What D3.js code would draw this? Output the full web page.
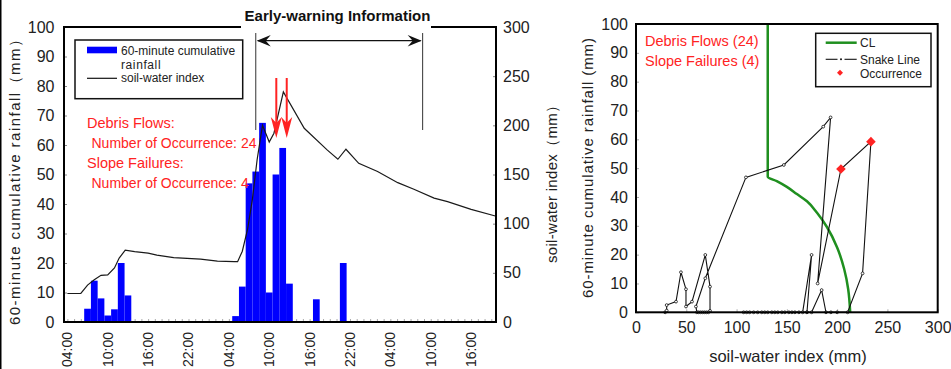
<!DOCTYPE html>
<html><head><meta charset="utf-8">
<script src="https://cdn.jsdelivr.net/npm/d3@7"></script>
<style>
html,body{margin:0;padding:0;background:#fff;}
svg{display:block;font-family:"Liberation Sans",Arial,sans-serif;}
</style></head>
<body>
<svg id="c" width="951" height="369"></svg>
<script>
// ---------- data: left chart (time series) ----------
const rainHours  = [7, 8, 9, 10, 11, 12, 13, 29, 30, 31, 32, 33, 34, 35, 36, 37, 41, 45];
const rainValues = [4.5, 14, 8, 2.2, 4.3, 20, 9, 2, 12, 47, 51, 67.5, 10, 50, 59, 13, 7.7, 20];
const swiHours  = [4, 6, 7, 8, 9, 10, 11, 11.7, 12.6, 14, 16, 17.3, 19.8, 23.8, 26.3, 28.8, 29.3, 30, 30.8, 31.5, 32.2, 33, 34, 34.7, 36.1, 39.2, 42.6, 44.2, 45.4, 47.3, 50.1, 53.1, 55.5, 58.5, 60.5, 64, 67.6];
const swiValues = [29, 29, 37.5, 43, 47.5, 48, 55, 65, 73, 71.5, 70, 68, 65.5, 64, 62, 61.3, 61.3, 72, 95, 125, 165, 200, 183, 192, 234, 197, 175, 165.5, 175.7, 161.4, 153, 141.7, 135, 126, 122.4, 114.6, 107.8];
const timeTickHours  = [4, 10, 16, 22, 28, 34, 40, 46, 52, 58, 64];
const timeTickLabels = ["04:00","10:00","16:00","22:00","04:00","10:00","16:00","22:00","04:00","10:00","16:00"];
const rainTicks = [0,10,20,30,40,50,60,70,80,90,100];
const swiTicks  = [0,50,100,150,200,250,300];
const warningHours = [32, 56.8];
const occurrenceArrowHours = [35.05, 36.6];

// ---------- data: right chart (snake line) ----------
const snakeSWI  = [29, 30.5, 30.5, 39.8, 44.7, 49.7, 49.7, 55.7, 68.9, 73.6, 73.6, 72, 70, 68, 66, 64, 62, 60.5, 59.6, 68.9, 109.3, 147, 186.2, 193.5, 180.6, 203.8, 233.6, 225.3, 210.4, 200, 193.8, 188.9, 184.6, 174.6, 170, 165.7, 174.6, 170, 162, 158, 155, 152, 148, 145, 141, 138, 135, 131, 128, 125, 121, 117, 113, 110, 107];
const snakeRain = [0, 0.6, 2.5, 3.7, 13.9, 8, 2, 3.7, 19.9, 8.9, 0.5, 0, 0, 0, 0, 0, 0, 0, 2, 11.8, 46.8, 51.1, 64.4, 67.6, 10, 49.7, 59.2, 13.5, 0, 0, 0, 0, 7.7, 0, 0, 0, 19.9, 0, 0, 0, 0, 0, 0, 0, 0, 0, 0, 0, 0, 0, 0, 0, 0, 0, 0];
const clSWI  = [131, 131, 140, 150, 160, 170, 180, 190, 200, 207, 211, 213];
const clRain = [100, 47, 45.5, 43.5, 41, 38.5, 34.5, 29.5, 22.5, 15, 8, 0];
const occSWI  = [203.8, 233.6];
const occRain = [49.7, 59.2];
const xTicksR = [0,50,100,150,200,250,300];
const yTicksR = [0,10,20,30,40,50,60,70,80,90,100];

const svg = d3.select("#c");
const RED = "#ff2323", BLUE = "#0000ff", GREEN = "#1f8f1f";

// border at left edge
svg.append("line").attr("x1",0.75).attr("x2",0.75).attr("y1",0).attr("y2",369).attr("stroke","#000").attr("stroke-width",1.5);

// ================= LEFT CHART =================
const L = {l:64, r:496, t:27, b:322};
const xT = d3.scaleLinear().domain([3.5, 67.7]).range([L.l, L.r]);
const yR = d3.scaleLinear().domain([0,100]).range([L.b, L.t]);
const yS = d3.scaleLinear().domain([0,300]).range([L.b, L.t]);
const gL = svg.append("g");

// minor hourly ticks on bottom (inward)
const hourTicks = d3.range(4, 68, 1);
gL.append("g").attr("transform",`translate(0,${L.b})`)
  .call(d3.axisBottom(xT).tickValues(hourTicks).tickSize(-3).tickFormat(""))
  .call(g=>g.select(".domain").remove())
  .call(g=>g.selectAll("line").attr("stroke","#aaa"));

// bars
gL.selectAll("rect.bar").data(rainHours).enter().append("rect")
  .attr("x", h=>xT(h-0.5)).attr("width", h=>xT(h+0.5)-xT(h-0.5))
  .attr("y", (h,i)=>yR(rainValues[i])).attr("height",(h,i)=>L.b-yR(rainValues[i]))
  .attr("fill", BLUE);

// SWI line
gL.append("path").datum(swiHours.map((h,i)=>[h, swiValues[i]]))
  .attr("d", d3.line().x(d=>xT(d[0])).y(d=>yS(d[1])))
  .attr("fill","none").attr("stroke","#1a1a1a").attr("stroke-width",1.2);

// left axis
gL.append("g").attr("transform",`translate(${L.l},0)`)
  .call(d3.axisLeft(yR).tickValues(rainTicks).tickSize(-3).tickPadding(10))
  .call(g=>g.select(".domain").remove())
  .call(g=>g.selectAll("line").attr("stroke","#888"))
  .call(g=>g.selectAll("text").attr("font-size",16).attr("fill","#222").attr("x",-9.5).attr("font-family","Liberation Sans, Arial"));
// right axis
gL.append("g").attr("transform",`translate(${L.r},0)`)
  .call(d3.axisRight(yS).tickValues(swiTicks).tickSize(-3).tickPadding(7))
  .call(g=>g.select(".domain").remove())
  .call(g=>g.selectAll("line").attr("stroke","#888"))
  .call(g=>g.selectAll("text").attr("font-size",16).attr("fill","#222").attr("x",7).attr("font-family","Liberation Sans, Arial"));

// frame
gL.append("rect").attr("x",L.l).attr("y",L.t).attr("width",L.r-L.l).attr("height",L.b-L.t)
  .attr("fill","none").attr("stroke","#000").attr("stroke-width",2);

// time tick labels
gL.selectAll("text.tl").data(timeTickHours).enter().append("text")
  .attr("transform", h=>`translate(${xT(h)},${L.b+10}) rotate(-90)`)
  .attr("text-anchor","end").attr("dy","0.35em").attr("font-size",14).attr("fill","#222")
  .text((h,i)=>timeTickLabels[i]);

// axis titles
svg.append("text").attr("transform","translate(20,178.5) rotate(-90)")
  .attr("text-anchor","middle").attr("font-size",15).attr("fill","#222")
  .attr("textLength",293).attr("lengthAdjust","spacing")
  .text("60-minute cumulative rainfall（mm）");
svg.append("text").attr("transform","translate(557,180.5) rotate(-90)")
  .attr("text-anchor","middle").attr("font-size",15).attr("fill","#222")
  .attr("textLength",165).attr("lengthAdjust","spacing")
  .text("soil-water index（mm）");

// early-warning annotation
svg.append("rect").attr("x",241).attr("y",8).attr("width",190).attr("height",24).attr("fill","#fff");
svg.append("text").attr("x",337.5).attr("y",21).attr("text-anchor","middle")
  .attr("font-size",15).attr("font-weight","bold").attr("fill","#111").text("Early-warning Information");
const wx0 = xT(warningHours[0]), wx1 = xT(warningHours[1]);
warningHours.forEach(h=>{
  svg.append("line").attr("x1",xT(h)).attr("x2",xT(h)).attr("y1",33).attr("y2",130)
    .attr("stroke","#333").attr("stroke-width",1);
});
svg.append("line").attr("x1",wx0+2).attr("x2",wx1-2).attr("y1",40.7).attr("y2",40.7).attr("stroke","#111").attr("stroke-width",1.3);
svg.append("path").attr("d",`M${wx0+1},40.7 L${wx0+15},35 L${wx0+10},40.7 L${wx0+15},46.4 Z`).attr("fill","#111");
svg.append("path").attr("d",`M${wx1-1},40.7 L${wx1-15},35 L${wx1-10},40.7 L${wx1-15},46.4 Z`).attr("fill","#111");

// red occurrence arrows
occurrenceArrowHours.forEach(h=>{
  const x = xT(h);
  svg.append("line").attr("x1",x).attr("x2",x).attr("y1",78).attr("y2",128).attr("stroke",RED).attr("stroke-width",2);
  svg.append("path").attr("d",`M${x},138 L${x-5.5},117 L${x},123 L${x+5.5},117 Z`).attr("fill",RED);
});

// legend (left)
svg.append("rect").attr("x",75).attr("y",40).attr("width",167.7).attr("height",58.7)
  .attr("fill","#fff").attr("stroke","#111").attr("stroke-width",1.5);
svg.append("rect").attr("x",87).attr("y",46.7).attr("width",30).attr("height",6.6).attr("fill",BLUE);
svg.append("text").attr("x",121).attr("y",54.5).attr("font-size",12).attr("fill","#222").text("60-minute cumulative");
svg.append("text").attr("x",121).attr("y",68.5).attr("font-size",12).attr("fill","#222").attr("letter-spacing",0.6).text("rainfall");
svg.append("line").attr("x1",87).attr("x2",117).attr("y1",78.3).attr("y2",78.3).attr("stroke","#111").attr("stroke-width",1.2);
svg.append("text").attr("x",121).attr("y",82).attr("font-size",12).attr("fill","#222").text("soil-water index");

// red notes (left)
const notesL = [
  {t:"Debris Flows:", x:87, y:128, s:14.5},
  {t:"Number of Occurrence: 24", x:91.5, y:148.3, s:14},
  {t:"Slope Failures:", x:87, y:168, s:14.5},
  {t:"Number of Occurrence: 4", x:91.5, y:188, s:14}
];
notesL.forEach(n=>svg.append("text").attr("x",n.x).attr("y",n.y).attr("font-size",n.s).attr("fill",RED).text(n.t));

// ================= RIGHT CHART =================
const R = {l:636, r:937.7, t:24, b:312.3};
const xS = d3.scaleLinear().domain([0,300]).range([R.l, R.r]);
const yQ = d3.scaleLinear().domain([0,100]).range([R.b, R.t]);
const gR = svg.append("g");

gR.append("g").attr("transform",`translate(0,${R.b})`)
  .call(d3.axisBottom(xS).tickValues(xTicksR).tickSize(-3).tickPadding(7))
  .call(g=>g.select(".domain").remove())
  .call(g=>g.selectAll("line").attr("stroke","#aaa"))
  .call(g=>g.selectAll("text").attr("font-size",16).attr("fill","#222").attr("y",9).attr("dy","0.71em").attr("font-family","Liberation Sans, Arial"));
gR.append("g").attr("transform",`translate(${R.l},0)`)
  .call(d3.axisLeft(yQ).tickValues(yTicksR).tickSize(-3).tickPadding(8))
  .call(g=>g.select(".domain").remove())
  .call(g=>g.selectAll("line").attr("stroke","#aaa"))
  .call(g=>g.selectAll("text").attr("font-size",16).attr("fill","#222").attr("x",-8).attr("font-family","Liberation Sans, Arial"));

// CL line
gR.append("path").datum(clSWI.map((s,i)=>[s, clRain[i]]))
  .attr("d", d3.line().x(d=>xS(d[0])).y(d=>yQ(d[1])).curve(d3.curveMonotoneY))
  .attr("fill","none").attr("stroke",GREEN).attr("stroke-width",2.5);

// snake line
const snake = snakeSWI.map((s,i)=>[s, snakeRain[i]]);
gR.append("path").datum(snake)
  .attr("d", d3.line().x(d=>xS(d[0])).y(d=>yQ(d[1])))
  .attr("fill","none").attr("stroke","#111").attr("stroke-width",1.1);
gR.selectAll("circle.sp").data(snake).enter().append("circle")
  .attr("cx",d=>xS(d[0])).attr("cy",d=>yQ(d[1])).attr("r",1.4)
  .attr("fill","#fff").attr("stroke","#111").attr("stroke-width",0.8);

// occurrences
gR.selectAll("path.occ").data(occSWI).enter().append("path")
  .attr("d",(s,i)=>{const x=xS(s), y=yQ(occRain[i]); return `M${x},${y-4.8} L${x+4.8},${y} L${x},${y+4.8} L${x-4.8},${y} Z`;})
  .attr("fill",RED);

// frame
gR.append("rect").attr("x",R.l).attr("y",R.t).attr("width",R.r-R.l).attr("height",R.b-R.t)
  .attr("fill","none").attr("stroke","#000").attr("stroke-width",2);

// titles
svg.append("text").attr("transform","translate(593,168) rotate(-90)")
  .attr("text-anchor","middle").attr("font-size",15).attr("fill","#222")
  .attr("textLength",260).attr("lengthAdjust","spacing")
  .text("60-minute cumulative rainfall (mm)");
svg.append("text").attr("x",788).attr("y",362).attr("text-anchor","middle")
  .attr("font-size",16.5).attr("fill","#222").text("soil-water index (mm)");

// red notes (right)
svg.append("text").attr("x",645).attr("y",45.5).attr("font-size",14.5).attr("fill",RED).text("Debris Flows (24)");
svg.append("text").attr("x",645).attr("y",66).attr("font-size",14.5).attr("fill",RED).text("Slope Failures (4)");

// legend (right)
svg.append("rect").attr("x",815.7).attr("y",33.3).attr("width",115.3).attr("height",53.4)
  .attr("fill","#fff").attr("stroke","#111").attr("stroke-width",1.5);
svg.append("line").attr("x1",825.7).attr("x2",856.7).attr("y1",42.7).attr("y2",42.7).attr("stroke",GREEN).attr("stroke-width",2.5);
svg.append("text").attr("x",860).attr("y",47).attr("font-size",12).attr("fill","#222").text("CL");
svg.append("line").attr("x1",825.7).attr("x2",837.5).attr("y1",59.3).attr("y2",59.3).attr("stroke","#111").attr("stroke-width",1.1);
svg.append("line").attr("x1",844.5).attr("x2",856.7).attr("y1",59.3).attr("y2",59.3).attr("stroke","#111").attr("stroke-width",1.1);
svg.append("circle").attr("cx",841).attr("cy",59.3).attr("r",1).attr("fill","#111");
svg.append("text").attr("x",860).attr("y",63.5).attr("font-size",12).attr("fill","#222").text("Snake Line");
svg.append("path").attr("d","M840,69.7 L843,72.7 L840,75.7 L837,72.7 Z").attr("fill",RED);
svg.append("text").attr("x",860).attr("y",77.5).attr("font-size",12).attr("fill","#222").text("Occurrence");
</script>
</body></html>
